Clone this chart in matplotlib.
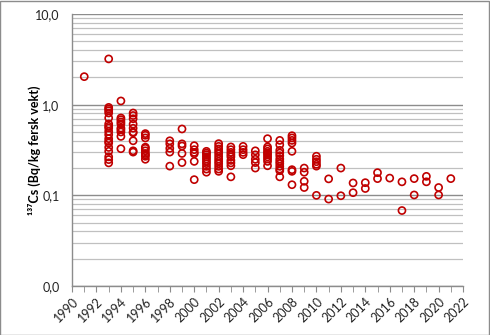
import matplotlib
matplotlib.use("Agg")
import matplotlib.pyplot as plt
from matplotlib.ticker import FixedLocator, FuncFormatter, LogLocator, NullFormatter

plt.rcParams['font.family'] = ['Lato', 'DejaVu Sans']

data = {
    1991: [2.04],
    1993: [3.2, 0.934, 0.897, 0.859, 0.81, 0.714, 0.613, 0.577, 0.553, 0.508, 0.467,
           0.422, 0.394, 0.378, 0.338, 0.306, 0.266, 0.248, 0.228],
    1994: [1.1, 0.714, 0.683, 0.645, 0.613, 0.553, 0.53, 0.5, 0.447, 0.327],
    1995: [0.81, 0.76, 0.70, 0.61, 0.55, 0.50, 0.49, 0.40, 0.31, 0.30],
    1996: [0.48, 0.46, 0.43, 0.34, 0.33, 0.31, 0.29, 0.28, 0.27, 0.25],
    1998: [0.40, 0.37, 0.33, 0.30, 0.21],
    1999: [0.54, 0.37, 0.35, 0.29, 0.23],
    2000: [0.353, 0.319, 0.298, 0.288, 0.237, 0.149],
    2001: [0.306, 0.293, 0.281, 0.266, 0.252, 0.237, 0.224, 0.209, 0.195, 0.18],
    2002: [0.372, 0.347, 0.325, 0.306, 0.288, 0.269, 0.252, 0.237, 0.224, 0.209, 0.195, 0.184],
    2003: [0.342, 0.319, 0.298, 0.281, 0.266, 0.243, 0.228, 0.212, 0.16],
    2004: [0.347, 0.319, 0.298, 0.281],
    2005: [0.31, 0.28, 0.25, 0.23, 0.20],
    2006: [0.422, 0.342, 0.325, 0.306, 0.293, 0.281, 0.266, 0.252, 0.237, 0.212],
    2007: [0.404, 0.362, 0.314, 0.293, 0.274, 0.252, 0.237, 0.224, 0.209, 0.195, 0.187, 0.16],
    2008: [0.455, 0.43, 0.404, 0.378, 0.306, 0.192, 0.184, 0.131],
    2009: [0.20, 0.18, 0.143, 0.122],
    2010: [0.27, 0.25, 0.235, 0.22, 0.21, 0.10],
    2011: [0.152, 0.091],
    2012: [0.20, 0.099],
    2013: [0.137, 0.107],
    2014: [0.138, 0.119],
    2015: [0.178, 0.153],
    2016: [0.155],
    2017: [0.141, 0.068],
    2018: [0.153, 0.101],
    2019: [0.162, 0.141],
    2020: [0.122, 0.101],
    2021: [0.153],
}
years = [y for y, vals in data.items() for _ in vals]
values = [v for vals in data.values() for v in vals]

x_major = list(range(1990, 2023, 2))
y_ticks = [0.01, 0.1, 1, 10]
y_ticklabels = ["0,0", "0,1", "1,0", "10,0"]
ylabel = "¹³⁷Cs (Bq/kg fersk vekt)"

fig = plt.figure(figsize=(4.9, 3.35), dpi=100)
ax = fig.add_axes([0.147, 0.1463, 0.798, 0.8117])

ax.set_yscale('log')
ax.set_ylim(0.01, 10)
ax.set_xlim(1990, 2022)

ax.scatter(years, values, s=26, facecolors='none', edgecolors='#C00000',
           linewidths=1.2, zorder=3, clip_on=False)

ax.yaxis.set_major_locator(FixedLocator(y_ticks))
ax.yaxis.set_major_formatter(FuncFormatter(lambda v, p: dict(zip(y_ticks, y_ticklabels)).get(v, "")))
ax.yaxis.set_minor_locator(LogLocator(base=10, subs=range(2, 10)))
ax.yaxis.set_minor_formatter(NullFormatter())
ax.grid(True, axis='y', which='major', color='#8c8c8c', linewidth=1.0)
ax.grid(True, axis='y', which='minor', color='#c0c0c0', linewidth=0.9)
ax.set_axisbelow(True)
ax.tick_params(axis='y', which='both', length=0, labelsize=9, pad=9, colors='#222222')

ax.set_xticks(x_major)
ax.set_xticklabels([str(x) for x in x_major], rotation=45, ha='right', rotation_mode='anchor')
ax.set_xticks(range(1990, 2023), minor=True)
ax.tick_params(axis='x', which='both', direction='out', length=4, color='#8c8c8c',
               labelsize=9, pad=3, labelcolor='#222222')

for s in ['top', 'right']:
    ax.spines[s].set_visible(False)
for s in ['left', 'bottom']:
    ax.spines[s].set_color('#8c8c8c')
    ax.spines[s].set_linewidth(1.0)

ax.set_ylabel(ylabel, fontsize=9, fontweight='bold')
ax.yaxis.set_label_coords(-0.08, 0.5)

fig.patches.append(plt.Rectangle((0.001, 0.001), 0.997, 0.996, transform=fig.transFigure,
                                 fill=False, edgecolor='#8c8c8c', linewidth=1.0))

fig.savefig("out.png", dpi=100)
